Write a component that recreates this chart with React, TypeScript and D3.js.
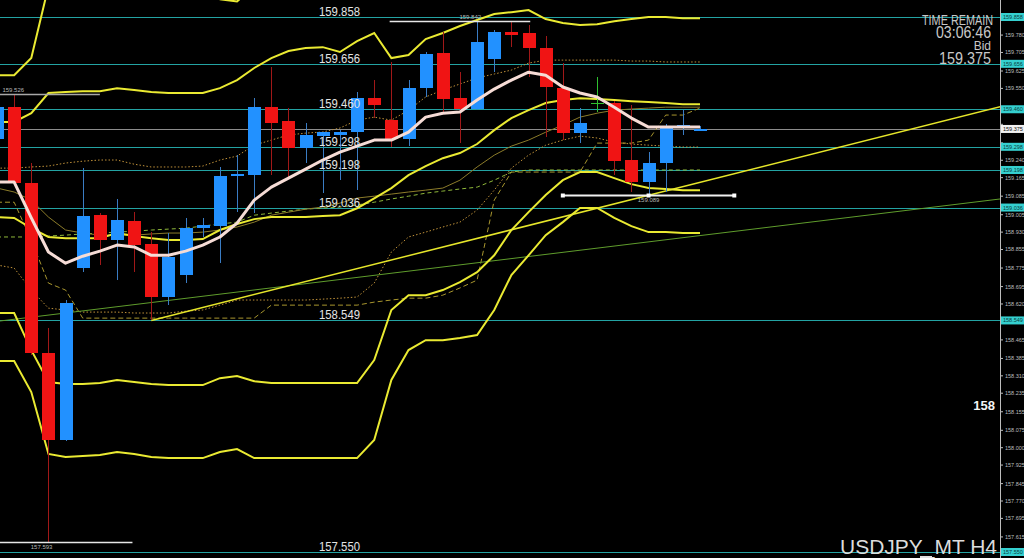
import React from 'react';
import * as d3 from 'd3';

// ---- data (prices) ----
const OPEN = [159.332,159.470,159.142,158.408,158.033,158.775,159.004,158.896,158.978,158.879,158.650,158.745,158.948,158.956,159.172,159.176,159.470,159.409,159.293,159.345,159.349,159.362,159.509,159.414,159.332,159.552,159.703,159.509,159.461,159.677,159.793,159.789,159.724,159.552,159.358,159.483,159.487,159.241,159.146,159.228,159.383,159.366];
const HIGH = [159.500,159.526,159.228,158.516,158.637,159.207,159.012,159.073,159.017,158.930,158.926,158.991,158.991,159.211,159.263,159.509,159.642,159.465,159.401,159.362,159.371,159.534,159.586,159.664,159.586,159.707,159.793,159.621,159.842,159.802,159.841,159.823,159.776,159.660,159.465,159.599,159.496,159.478,159.276,159.396,159.457,159.388];
const LOW = [159.293,159.133,158.400,157.593,158.029,158.758,158.788,158.723,158.758,158.549,158.616,158.710,158.909,158.797,159.017,159.012,159.176,159.168,159.228,159.099,159.155,159.112,159.422,159.297,159.301,159.513,159.448,159.314,159.457,159.621,159.729,159.599,159.340,159.327,159.314,159.448,159.176,159.103,159.089,159.103,159.349,159.366];
const CLOSE = [159.470,159.142,158.408,158.033,158.624,158.999,158.896,158.982,158.874,158.650,158.823,158.948,158.961,159.172,159.181,159.470,159.401,159.293,159.349,159.362,159.362,159.509,159.478,159.332,159.552,159.698,159.504,159.461,159.750,159.793,159.780,159.724,159.556,159.358,159.401,159.483,159.237,159.146,159.228,159.388,159.392,159.375];

const MA_FAST = [159.146,159.146,158.991,158.844,158.796,158.826,158.848,158.874,158.866,158.830,158.830,158.848,158.874,158.909,158.969,159.068,159.124,159.163,159.202,159.241,159.275,159.301,159.327,159.327,159.361,159.426,159.443,159.448,159.500,159.547,159.586,159.620,159.607,159.556,159.530,159.513,159.469,159.422,159.383,159.383,159.383,159.383];
const MA_SLOW = [159.120,159.103,159.068,158.995,158.939,158.926,158.917,158.917,158.917,158.922,158.926,158.926,158.930,158.939,158.952,158.973,159.003,159.016,159.029,159.038,159.055,159.077,159.085,159.094,159.103,159.111,159.120,159.154,159.211,159.262,159.301,159.327,159.361,159.392,159.426,159.443,159.456,159.461,159.465,159.469,159.469,159.469];

const BB_MID = [158.995,158.991,158.947,158.909,158.904,158.904,158.904,158.926,158.913,158.904,158.896,158.896,158.900,158.939,158.965,158.986,158.995,158.995,158.995,158.999,159.003,159.033,159.076,159.120,159.176,159.215,159.249,159.271,159.310,159.370,159.422,159.456,159.487,159.500,159.508,159.504,159.500,159.495,159.491,159.487,159.482,159.482];
const BB_UP2 = [159.405,159.405,159.443,159.530,159.534,159.538,159.538,159.551,159.543,159.534,159.530,159.530,159.530,159.551,159.586,159.638,159.681,159.711,159.724,159.728,159.707,159.754,159.789,159.681,159.694,159.763,159.789,159.819,159.845,159.871,159.879,159.888,159.849,159.832,159.823,159.827,159.840,159.849,159.858,159.858,159.853,159.853];
const BB_LO2 = [158.581,158.581,158.421,158.283,158.275,158.275,158.279,158.292,158.283,158.275,158.270,158.270,158.270,158.300,158.309,158.287,158.279,158.279,158.279,158.279,158.279,158.279,158.378,158.594,158.658,158.658,158.680,158.714,158.757,158.830,158.939,159.016,159.090,159.154,159.189,159.189,159.163,159.137,159.120,159.116,159.111,159.111];
const BB_UP3 = [159.607,159.607,159.681,159.990,160.000,160.000,160.000,160.000,160.000,160.000,160.000,159.990,159.960,159.935,159.925,159.990,160.050,160.100,160.100,160.100,160.100,160.100,160.100,160.100,160.100,160.100,160.100,160.100,160.100,160.100,160.100,160.100,160.100,160.100,160.100,160.100,160.100,160.100,160.100,160.100,160.100,160.100];
const BB_LO3 = [158.374,158.374,158.240,157.973,157.960,157.964,157.968,157.981,157.973,157.960,157.955,157.955,157.955,157.981,157.994,157.955,157.955,157.955,157.955,157.955,157.955,157.955,158.033,158.292,158.421,158.464,158.464,158.473,158.486,158.594,158.745,158.830,158.917,158.973,159.034,159.034,158.991,158.956,158.930,158.930,158.926,158.926];
const BB_UP1 = [159.206,159.206,159.211,159.215,159.228,159.236,159.241,159.241,159.223,159.211,159.211,159.211,159.215,159.241,159.258,159.305,159.327,159.349,159.357,159.362,159.379,159.413,159.426,159.413,159.456,159.513,159.543,159.569,159.595,159.612,159.629,159.659,159.672,159.672,159.672,159.672,159.672,159.668,159.668,159.664,159.664,159.664];
const BB_LO1 = [158.788,158.775,158.680,158.602,158.594,158.585,158.585,158.585,158.581,158.581,158.581,158.589,158.594,158.615,158.637,158.637,158.637,158.637,158.637,158.641,158.645,158.650,158.710,158.844,158.909,158.930,158.952,158.973,159.025,159.111,159.206,159.262,159.305,159.327,159.344,159.336,159.318,159.310,159.305,159.301,159.297,159.297];
const STEP_LINE = [159.059,159.059,158.896,158.710,158.680,158.559,158.559,158.559,158.559,158.559,158.559,158.559,158.559,158.559,158.559,158.559,158.615,158.615,158.615,158.615,158.615,158.615,158.628,158.637,158.645,158.645,158.658,158.689,158.723,159.068,159.189,159.189,159.189,159.189,159.189,159.314,159.314,159.314,159.327,159.435,159.435,159.465];
const GREEN_DASH = [158.909,158.909,158.909,158.913,158.917,158.922,158.926,158.930,158.934,158.939,158.943,158.947,158.956,158.965,158.973,159.003,159.012,159.021,159.029,159.034,159.038,159.047,159.059,159.073,159.085,159.098,159.107,159.116,159.124,159.154,159.189,159.198,159.198,159.198,159.198,159.198,159.198,159.198,159.198,159.198,159.198,159.198];

const LEVELS = [159.858, 159.656, 159.460, 159.298, 159.198, 159.036, 158.549, 157.550];
const AXIS_TICKS = [159.780,159.705,159.625,159.550,159.470,159.395,159.315,159.240,159.165,159.085,159.005,158.930,158.855,158.775,158.695,158.620,158.540,158.465,158.385,158.310,158.235,158.155,158.075,158.000,157.925,157.845,157.770,157.695,157.615];
const BID = 159.375;
const TREND_YELLOW = [[9, 158.549], [38, 159.089]];
const TREND_GREEN = [[0, 158.545], [41, 158.915]];
const PRICE_MARKS = [
  { from: -0.2, to: 6.0, price: 159.526, label: '159.526', at: 0.95, above: true, color: '#a8a8a8' },
  { from: 22.9, to: 31.1, price: 159.842, label: '159.842', at: 27.6, above: true, color: '#e6e6e6' },
  { from: -0.2, to: 7.9, price: 157.593, label: '157.593', at: 2.6, above: false, color: '#e6e6e6' },
  { from: 33.0, to: 43.0, price: 159.089, label: '159.089', at: 38.0, above: false, color: '#f0f0f0' },
];

const W = 1024, H = 558, PLOT_R = 1000;
const FONT = 'Liberation Sans, Arial, sans-serif';

export default function App() {
  const x = d3.scaleLinear().domain([0, 41]).range([-3, 700]);
  const y = d3.scaleLinear().domain([157.55, 159.858]).range([552, 17]);
  const line = d3.line<number>().x((_, i) => x(i)).y(d => y(d));

  const extend = (pts: number[][]) => {
    const [[i0, p0], [i1, p1]] = pts;
    const slope = (p1 - p0) / (i1 - i0);
    const iEnd = x.invert(PLOT_R + 5);
    return { x1: x(i0), y1: y(p0), x2: x(iEnd), y2: y(p0 + slope * (iEnd - i0)) };
  };
  const ty = extend(TREND_YELLOW);
  const tg = extend(TREND_GREEN);

  const bw = 13;
  const boxes = [...LEVELS, BID];
  const visibleTicks = AXIS_TICKS.filter(v => boxes.every(b => Math.abs(y(v) - y(b)) > 7));

  return (
    <svg width={W} height={H} style={{ position: 'absolute', left: 0, top: 0, display: 'block' }}>
      <defs>
        <clipPath id="plot"><rect x={0} y={0} width={PLOT_R} height={H} /></clipPath>
      </defs>
      <rect x={0} y={0} width={W} height={H} fill="#000" />
      <g clipPath="url(#plot)">
        {LEVELS.map(v => (
          <line key={v} x1={0} x2={PLOT_R} y1={Math.round(y(v)) + 0.5} y2={Math.round(y(v)) + 0.5} stroke="#23a3a3" strokeWidth={1} />
        ))}
        <line x1={0} x2={PLOT_R} y1={Math.round(y(BID)) + 0.5} y2={Math.round(y(BID)) + 0.5} stroke="#8c8c8c" strokeWidth={1} />

        <path d={line(GREEN_DASH)!} fill="none" stroke="#8fb83a" strokeWidth={1} strokeDasharray="4,3" />
        <path d={line(STEP_LINE)!} fill="none" stroke="#a8962e" strokeWidth={1} strokeDasharray="5,3" />
        <path d={line(BB_UP1)!} fill="none" stroke="#c0923a" strokeWidth={1} strokeDasharray="1.5,2" />
        <path d={line(BB_LO1)!} fill="none" stroke="#c0923a" strokeWidth={1} strokeDasharray="1.5,2" />
        <path d={line(MA_SLOW)!} fill="none" stroke="#8c7c2a" strokeWidth={1} />

        <line {...tg} stroke="#5f9c2c" strokeWidth={1} />
        <line {...ty} stroke="#e6e62a" strokeWidth={1.5} />

        {[BB_UP3, BB_UP2, BB_MID, BB_LO2, BB_LO3].map((arr, k) => (
          <path key={k} d={line(arr)!} fill="none" stroke="#eaea32" strokeWidth={2} />
        ))}

        {OPEN.map((o, i) => {
          const c = CLOSE[i];
          const cx = Math.round(x(i)) + 0.5;
          const doji = o === c;
          const up = c > o;
          const body = up ? '#2291ff' : '#f01414';
          const wick = doji ? '#2fc02f' : up ? '#3a7cc4' : '#a01818';
          const top = y(Math.max(o, c));
          const h = Math.max(1.5, Math.abs(y(o) - y(c)));
          return (
            <g key={i} shapeRendering="crispEdges">
              <line x1={cx} x2={cx} y1={y(HIGH[i])} y2={y(LOW[i])} stroke={wick} strokeWidth={1} />
              {doji ? (
                <line x1={cx - bw / 2} x2={cx + bw / 2} y1={y(o)} y2={y(o)} stroke={wick} strokeWidth={1} />
              ) : (
                <rect x={cx - bw / 2} y={top} width={bw} height={h} fill={body} />
              )}
            </g>
          );
        })}

        <path d={line(MA_FAST)!} fill="none" stroke="#f6dcd6" strokeWidth={3} strokeLinejoin="round" />

        {PRICE_MARKS.map(m => {
          const yy = Math.round(y(m.price)) + 0.5;
          return (
            <g key={m.label}>
              <line x1={x(m.from)} x2={x(m.to)} y1={yy} y2={yy} stroke={m.color} strokeWidth={m.price === 159.089 ? 2 : 1.5} />
              {m.price === 159.089 && [m.from, m.at, m.to].map(t => (
                <rect key={t} x={x(t) - 2} y={yy - 2} width={4} height={4} fill="#fff" />
              ))}
              <text x={x(m.at)} y={m.above ? yy - 3 : yy + 6} fontSize={6} fill="#b8b8b8" textAnchor="middle" fontFamily={FONT}>{m.label}</text>
            </g>
          );
        })}

        {LEVELS.map(v => (
          <text key={v} x={319} y={Math.round(y(v)) - 1.5} fontSize={12.5} fill="#e4e4e4" fontFamily={FONT} textLength={41} lengthAdjust="spacingAndGlyphs">{v.toFixed(3)}</text>
        ))}
      </g>

      <line x1={PLOT_R + 0.5} x2={PLOT_R + 0.5} y1={0} y2={H} stroke="#bdbdbd" strokeWidth={1} />
      {AXIS_TICKS.map(v => (
        <line key={'t' + v} x1={PLOT_R} x2={PLOT_R + 3} y1={y(v)} y2={y(v)} stroke="#bdbdbd" />
      ))}
      {visibleTicks.map(v => (
        <text key={'l' + v} x={PLOT_R + 5} y={y(v) + 2} fontSize={5.5} fill="#bdbdbd" fontFamily={FONT}>{v.toFixed(3)}</text>
      ))}
      {LEVELS.map(v => (
        <g key={'b' + v}>
          <rect x={PLOT_R + 1} y={y(v) - 4} width={23} height={8} fill="#35d0d0" />
          <text x={PLOT_R + 3} y={y(v) + 2} fontSize={5.5} fill="#0b3d3d" fontFamily={FONT}>{v.toFixed(3)}</text>
        </g>
      ))}
      <rect x={PLOT_R + 1} y={y(BID) - 4} width={23} height={8} fill="#f2f2f2" />
      <text x={PLOT_R + 3} y={y(BID) + 2} fontSize={5.5} fill="#111" fontFamily={FONT}>{BID.toFixed(3)}</text>

      <text x={993} y={25} fontSize={14} fill="#c8c8c8" textAnchor="end" fontFamily={FONT} textLength={71} lengthAdjust="spacingAndGlyphs">TIME REMAIN</text>
      <text x={991} y={37.5} fontSize={16} fill="#c8c8c8" textAnchor="end" fontFamily={FONT} textLength={55} lengthAdjust="spacingAndGlyphs">03:06:46</text>
      <text x={991} y={50} fontSize={12} fill="#c8c8c8" textAnchor="end" fontFamily={FONT}>Bid</text>
      <text x={991} y={64} fontSize={16} fill="#c8c8c8" textAnchor="end" fontFamily={FONT} textLength={52} lengthAdjust="spacingAndGlyphs">{BID.toFixed(3)}</text>
      <text x={995} y={410} fontSize={13} fontWeight="bold" fill="#f4f4f4" textAnchor="end" fontFamily={FONT}>158</text>
      <text x={997} y={554} fontSize={21} fill="#dcdcdc" textAnchor="end" fontFamily={FONT} textLength={157} lengthAdjust="spacingAndGlyphs">USDJPY_MT H4</text>
      <rect x={920} y={556} width={12} height={2} fill="#e0e0e0" />
    </svg>
  );
}
